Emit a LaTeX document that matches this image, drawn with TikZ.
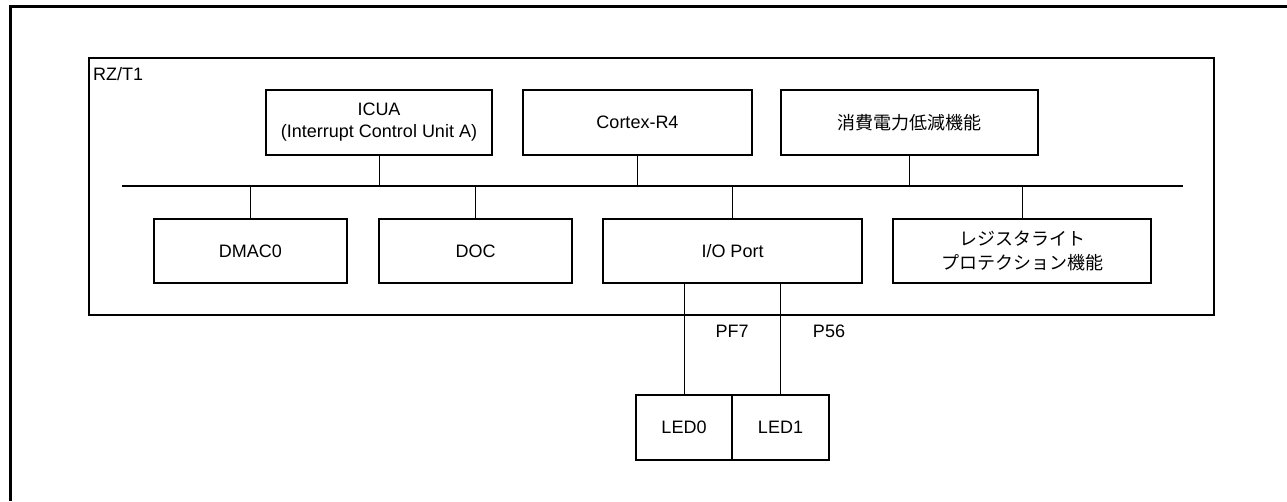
\documentclass[tikz,border=0pt]{standalone}
\usepackage{fontspec}
\setmainfont{Liberation Sans}
\newfontfamily\jp{Noto Sans CJK JP}
\begin{document}
\begin{tikzpicture}[x=1pt,y=-1pt,
  every node/.style={font=\fontsize{18}{22}\selectfont},
  blk/.style={draw,line width=2pt,rectangle,align=center,inner sep=0pt},
  stem/.style={line width=1pt},
  lbl/.style={inner sep=0pt}]
\useasboundingbox (0,0) rectangle (1287,501);
% outer frame (cropped)
\draw[line width=3pt] (10,501) -- (10,6) -- (1287,6);
% chip outline
\node[draw,line width=2pt,rectangle,inner sep=0pt,minimum width=1125pt,minimum height=257pt] (rz) at (651.5,186.5) {};
\node[lbl,anchor=base west] (rzl) at (93,80) {RZ/T1};
% top row
\node[blk,minimum width=226pt,minimum height=65pt] (icua) at (379,122.5) {ICUA\\(Interrupt Control Unit A)};
\node[blk,minimum width=229pt,minimum height=65pt] (cortex) at (637.5,122.5) {Cortex-R4};
\node[blk,minimum width=257pt,minimum height=65pt] (power) at (909.5,122.5) {\jp 消費電力低減機能};
% bus
\coordinate (busL) at (122,186);
\coordinate (busR) at (1183,186);
\draw[line width=2pt] (busL) -- (busR);
% bottom row
\node[blk,minimum width=193pt,minimum height=64pt] (dmac) at (250.5,251) {DMAC0};
\node[blk,minimum width=193pt,minimum height=64pt] (doc) at (475.5,251) {DOC};
\node[blk,minimum width=259pt,minimum height=64pt] (io) at (732.5,251) {I/O Port};
\node[blk,minimum width=258pt,minimum height=64pt,font=\jp\fontsize{18}{24}\selectfont] (reg) at (1022,251) {レジスタライト\\プロテクション機能};
% stems
\foreach \n in {icua,cortex,power}{\draw[stem] (\n.south) -- (\n.south |- busL);}
\foreach \n in {dmac,doc,io,reg}{\draw[stem] (\n.north) -- (\n.north |- busL);}
% LEDs
\node[blk,minimum width=96pt,minimum height=65pt] (led0) at (684,427.5) {LED0};
\node[blk,minimum width=97pt,minimum height=65pt] (led1) at (780.5,427.5) {LED1};
\draw[stem] (led0.north) -- (led0.north |- io.south);
\draw[stem] (led1.north) -- (led1.north |- io.south);
\node[lbl] (pf7) at (732,331) {PF7};
\node[lbl] (p56) at (829,331) {P56};
\end{tikzpicture}
\end{document}
